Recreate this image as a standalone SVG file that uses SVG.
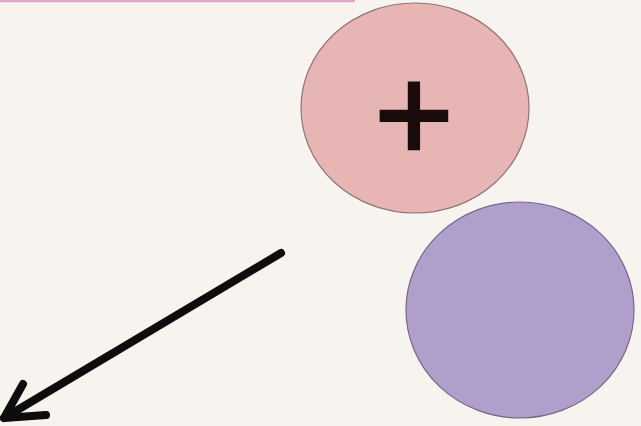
<svg xmlns="http://www.w3.org/2000/svg" width="641" height="426" viewBox="0 0 641 426">
<style>
.bg{fill:#f7f3ef}
.node-pink{fill:#e8b5b5;stroke:#8e7474;stroke-width:1.2}
.node-purple{fill:#b09fcb;stroke:#76688a;stroke-width:1.2}
.conn{stroke:#0d0d0d;stroke-width:8;stroke-linecap:round;stroke-linejoin:round;fill:none}
.sym{font-family:"Liberation Sans",Arial,sans-serif;font-size:136px;fill:#1a0c0c;stroke:#1a0c0c;stroke-width:2.5;text-anchor:middle}
</style>
<rect class="bg" x="0" y="0" width="641" height="426"/>
<line x1="0" y1="1" x2="355" y2="1" stroke="#e3a2c8" stroke-width="2.5"/>
<g id="node-plus">
<ellipse class="node-pink" cx="415" cy="108" rx="114" ry="105"/>
<text class="sym" x="414" y="161">+</text>
</g>
<g id="node-purple">
<ellipse class="node-purple" cx="520" cy="310" rx="114" ry="108"/>
</g>
<g id="connectors">
<path class="conn" d="M281,253 L4,418"/>
<path class="conn" d="M23,384 L4,418 L46,415"/>
</g>
</svg>
